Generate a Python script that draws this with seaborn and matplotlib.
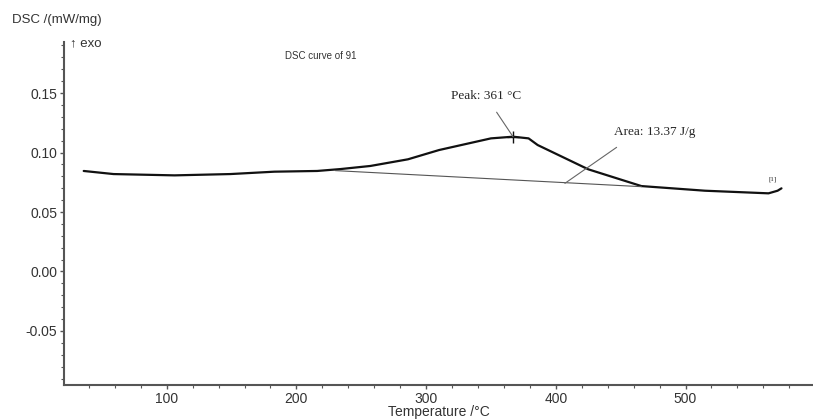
import numpy as np
import pandas as pd
import matplotlib
matplotlib.use("Agg")
import matplotlib.pyplot as plt
from matplotlib.ticker import MultipleLocator
import seaborn as sns

sns.set_style("ticks")
plt.rcParams['font.family'] = ['Liberation Sans', 'DejaVu Sans']

# DSC curve
temp = [36, 59, 106, 149, 183, 216, 234, 257, 286, 310, 350, 367, 379, 386,
        425, 466, 515, 564, 571, 574]
dsc = [0.0845, 0.0819, 0.0808, 0.0819, 0.0839, 0.0845, 0.0861, 0.0887, 0.0943,
       0.1021, 0.1119, 0.1133, 0.1119, 0.1063, 0.0859, 0.0718, 0.0679, 0.0657,
       0.0679, 0.0699]

# integration baseline
base_temp = [230, 466]
base_dsc = [0.0848, 0.0713]

# annotations
peak_temp, peak_dsc = 367, 0.1133
peak_label = "Peak: 361 °C"
area_label = "Area: 13.37 J/g"
area_anchor = (407, 0.0741)

df = pd.DataFrame({"Temperature": temp, "DSC": dsc})

fig = plt.figure(figsize=(8.13, 4.19), dpi=100)
ax = fig.add_axes([64 / 813, 34 / 419, 749 / 813, 343 / 419])

sns.lineplot(data=df, x="Temperature", y="DSC", ax=ax, color="#111111",
             linewidth=1.6, sort=False, estimator=None)
ax.plot(base_temp, base_dsc, color="#555555", linewidth=0.8)

# peak marker and leader
ax.plot([peak_temp], [peak_dsc], marker="+", color="#111111", markersize=8)
ax.annotate(peak_label, xy=(peak_temp, peak_dsc), xytext=(346, 0.1475),
            ha="center", va="center", fontsize=9.5, family="Liberation Serif",
            arrowprops=dict(arrowstyle="-", color="#666666", lw=0.8,
                            shrinkA=6, shrinkB=0))
ax.annotate(area_label, xy=area_anchor, xytext=(445, 0.1175),
            ha="left", va="center", fontsize=9.5, family="Liberation Serif",
            arrowprops=dict(arrowstyle="-", color="#666666", lw=0.8,
                            shrinkA=8, shrinkB=0, relpos=(0.2, 0)))
ax.text(567.5, 0.0775, "[1]", fontsize=5, ha="center", va="center",
        family="Liberation Serif")

ax.set_xlim(20.8, 598.3)
ax.set_ylim(-0.0954, 0.1929)
ax.xaxis.set_major_locator(MultipleLocator(100))
ax.xaxis.set_minor_locator(MultipleLocator(20))
ax.yaxis.set_major_locator(MultipleLocator(0.05))
ax.yaxis.set_minor_locator(MultipleLocator(0.01))
ax.set_yticks([-0.05, 0.0, 0.05, 0.10, 0.15])
ax.set_yticklabels(["-0.05", "0.00", "0.05", "0.10", "0.15"])
ax.set_xticks([100, 200, 300, 400, 500])

for s in ["top", "right"]:
    ax.spines[s].set_visible(False)
for s in ["left", "bottom"]:
    ax.spines[s].set_color("#555555")
    ax.spines[s].set_linewidth(1.5)

ax.tick_params(which="major", length=3, width=1, color="#555555",
               labelsize=10, labelcolor="#333333", pad=2)
ax.tick_params(which="minor", length=2, width=0.8, color="#555555")

ax.set_xlabel("Temperature /°C", fontsize=10, color="#333333", labelpad=-1)
ax.set_ylabel("")

fig.text(11.7 / 813, 1 - 20 / 419, "DSC /(mW/mg)", fontsize=9.5,
         color="#333333", va="center", ha="left")
fig.text(70 / 813, 1 - 43 / 419, "↑ exo", fontsize=9.5, color="#333333",
         va="center", ha="left")
fig.text(321 / 813, 1 - 56 / 419, "DSC curve of 91", fontsize=7,
         color="#333333", va="center", ha="center")

fig.savefig("out.png", dpi=100)
